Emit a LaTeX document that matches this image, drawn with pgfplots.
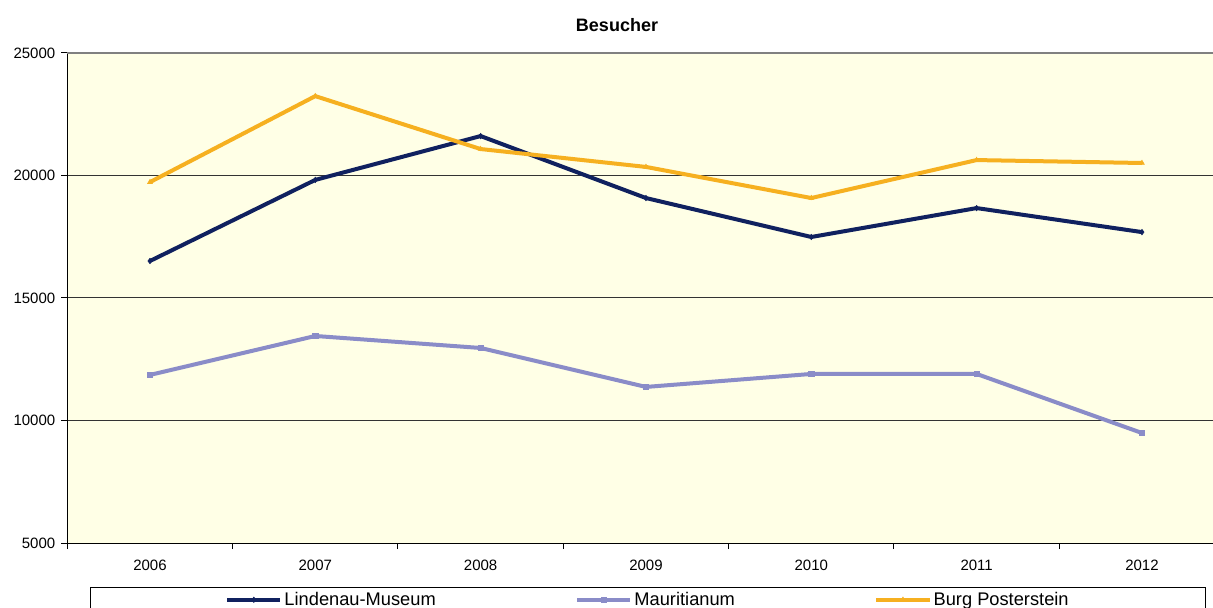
\documentclass[border=0pt]{standalone}
\usepackage{pgfplots}
\pgfplotsset{compat=1.18}
\usepackage{fontspec}
\setmainfont{Liberation Sans}
\definecolor{lindenau}{RGB}{16,33,95}
\definecolor{mauri}{RGB}{138,140,200}
\definecolor{burg}{RGB}{246,176,32}
\definecolor{plotbg}{RGB}{255,255,230}

\begin{document}
\begin{tikzpicture}
% 1 px of the reference = 0.75pt
\useasboundingbox (0pt,0pt) rectangle (909.75pt,455.25pt);
\clip (0pt,0pt) rectangle (909.75pt,455.25pt);
\node[font=\bfseries\fontsize{13.5}{16}\selectfont] at (462.75pt,436.5pt) {Besucher};
\begin{axis}[
  at={(50.475pt,48pt)}, anchor=south west,
  scale only axis,
  width=868pt, height=367.5pt,
  xmin=-0.5, xmax=6.5,
  ymin=5000, ymax=25000,
  scaled ticks=false,
  axis lines=left,
  axis line style={-, black, line width=0.75pt},
  axis background/.style={fill=plotbg},
  xtick={0,...,6},
  xticklabels={2006,2007,2008,2009,2010,2011,2012},
  minor xtick={-0.5,0.5,1.5,2.5,3.5,4.5,5.5,6.5},
  x tick style={draw=none},
  minor x tick style={draw=black, line width=0.75pt},
  minor tick length=4.5pt,
  ytick={5000,10000,15000,20000},
  extra y ticks={25000},
  extra y tick style={grid style={gray, line width=0.9pt}},
  y tick style={black, line width=0.75pt},
  major tick length=4.5pt,
  tick align=outside,
  ymajorgrids,
  grid style={black!80, line width=0.75pt},
  tick label style={font=\fontsize{11.25}{13}\selectfont},
  /pgf/number format/assume math mode=true,
  /pgf/number format/1000 sep={},
  xticklabel style={yshift=-5pt},
  yticklabel style={xshift=-1pt},
  legend columns=3,
  legend style={
    at={(rel axis cs:0.0196,-0.0898)}, anchor=north west,
    draw=black, line width=0.75pt, fill=white,
    inner xsep=101pt, inner ysep=1.75pt,
    font=\fontsize{13.7}{16}\selectfont,
    /tikz/every even column/.append style={column sep=103pt},
    nodes={inner ysep=1.75pt, inner xsep=1.5pt},
  },
  legend image code/.code={
    \draw[mark repeat=2,mark phase=2,#1] plot coordinates {(0pt,0pt)(20pt,0pt)(40pt,0pt)};
  },
  every axis plot/.append style={line width=3pt, mark size=2pt, mark options={solid, line width=0.5pt}},
]
\addplot[lindenau, mark=diamond*] coordinates {
  (0,16510) (1,19820) (2,21610) (3,19080) (4,17490) (5,18670) (6,17690)};
\addlegendentry{Lindenau-Museum}
\addplot[mauri, mark=square*] coordinates {
  (0,11860) (1,13450) (2,12960) (3,11370) (4,11900) (5,11900) (6,9490)};
\addlegendentry{Mauritianum}
\addplot[burg, mark=triangle*] coordinates {
  (0,19730) (1,23240) (2,21080) (3,20350) (4,19080) (5,20630) (6,20510)};
\addlegendentry{Burg Posterstein}
\end{axis}
\end{tikzpicture}
\end{document}
